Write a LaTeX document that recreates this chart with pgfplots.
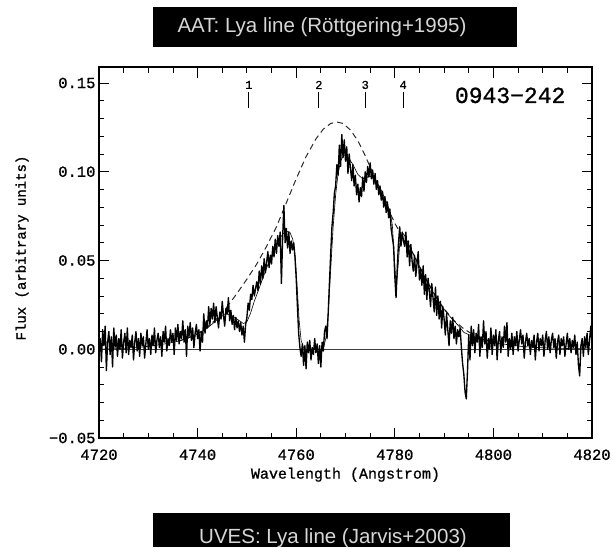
\documentclass[border=0pt]{standalone}
\usepackage{pgfplots}
\pgfplotsset{compat=1.18}
\usepackage{pgfplotstable}
\usepackage{fontspec}
\setmainfont{Liberation Sans}
\setmonofont{Liberation Mono}
\newfontfamily\plotfont[FakeBold=1]{Liberation Mono}
\definecolor{titlegray}{HTML}{D6D6D6}
\definecolor{dashgray}{HTML}{2A2A2A}

% Observed Lya spectrum of 0943-242 (wavelength in Angstrom, flux in arbitrary units)
\pgfplotstableread{
wl flux
4720.00 -0.004
4720.25 0.006
4720.50 -0.007
4720.75 0.011
4721.00 0.002
4721.25 0.013
4721.50 -0.012
4721.75 0.004
4722.00 0.010
4722.25 -0.003
4722.50 0.007
4722.75 -0.010
4723.00 0.012
4723.25 0.001
4723.50 0.008
4723.75 -0.004
4724.00 0.006
4724.25 0.000
4724.50 0.011
4724.75 -0.005
4725.00 0.004
4725.25 0.009
4725.50 -0.002
4725.75 0.012
4726.00 -0.003
4726.25 0.005
4726.50 0.001
4726.75 0.008
4727.00 -0.006
4727.25 0.004
4727.50 0.010
4727.75 -0.001
4728.00 0.006
4728.25 -0.004
4728.50 0.009
4728.75 0.002
4729.00 0.007
4729.25 -0.005
4729.50 0.003
4729.75 0.011
4730.00 0.000
4730.25 0.006
4730.50 -0.003
4730.75 0.008
4731.00 0.002
4731.25 0.012
4731.50 -0.002
4731.75 0.005
4732.00 0.009
4732.25 0.001
4732.50 0.007
4732.75 -0.004
4733.00 0.010
4733.25 0.004
4733.50 0.013
4733.75 -0.001
4734.00 0.006
4734.25 0.002
4734.50 0.011
4734.75 0.004
4735.00 0.009
4735.25 -0.003
4735.50 0.012
4735.75 0.005
4736.00 0.014
4736.25 0.003
4736.50 0.010
4736.75 0.006
4737.00 0.016
4737.25 0.004
4737.50 0.011
4737.75 -0.004
4738.00 0.013
4738.25 0.007
4738.50 0.015
4738.75 0.005
4739.00 0.012
4739.25 0.001
4739.50 0.009
4739.75 0.014
4740.00 0.006
4740.25 0.011
4740.50 -0.001
4740.75 0.010
4741.00 0.004
4741.25 0.020
4741.50 0.009
4741.75 0.016
4742.00 0.012
4742.25 0.024
4742.50 0.014
4742.75 0.023
4743.00 0.017
4743.25 0.026
4743.50 0.015
4743.75 0.024
4744.00 0.018
4744.25 0.012
4744.50 0.021
4744.75 0.017
4745.00 0.027
4745.25 0.019
4745.50 0.013
4745.75 0.023
4746.00 0.020
4746.25 0.029
4746.50 0.016
4746.75 0.022
4747.00 0.014
4747.25 0.019
4747.50 0.011
4747.75 0.018
4748.00 0.012
4748.25 0.016
4748.50 0.010
4748.75 0.015
4749.00 0.008
4749.25 0.013
4749.50 0.004
4749.75 0.014
4750.00 0.018
4750.25 0.026
4750.50 0.022
4750.75 0.031
4751.00 0.028
4751.25 0.036
4751.50 0.030
4751.75 0.034
4752.00 0.038
4752.25 0.033
4752.50 0.044
4752.75 0.037
4753.00 0.047
4753.25 0.040
4753.50 0.051
4753.75 0.043
4754.00 0.049
4754.25 0.055
4754.50 0.046
4754.75 0.053
4755.00 0.048
4755.25 0.058
4755.50 0.052
4755.75 0.062
4756.00 0.054
4756.25 0.064
4756.50 0.058
4756.75 0.066
4757.00 0.037
4757.25 0.063
4757.50 0.081
4757.75 0.060
4758.00 0.068
4758.25 0.057
4758.50 0.066
4758.75 0.054
4759.00 0.061
4759.25 0.056
4759.50 0.060
4759.75 0.052
4760.00 0.040
4760.25 0.024
4760.50 0.009
4760.75 0.001
4761.00 -0.004
4761.25 0.003
4761.50 -0.009
4761.75 0.002
4762.00 -0.011
4762.25 0.004
4762.50 -0.002
4762.75 0.005
4763.00 -0.006
4763.25 0.001
4763.50 -0.003
4763.75 0.006
4764.00 -0.002
4764.25 0.003
4764.50 -0.008
4764.75 0.002
4765.00 -0.010
4765.25 0.004
4765.50 -0.001
4765.75 0.010
4766.00 0.013
4766.25 0.006
4766.50 0.021
4766.75 0.038
4767.00 0.054
4767.25 0.069
4767.50 0.077
4767.75 0.088
4768.00 0.092
4768.25 0.104
4768.50 0.098
4768.75 0.115
4769.00 0.103
4769.25 0.121
4769.50 0.108
4769.75 0.118
4770.00 0.106
4770.25 0.114
4770.50 0.099
4770.75 0.110
4771.00 0.102
4771.25 0.095
4771.50 0.104
4771.75 0.092
4772.00 0.098
4772.25 0.087
4772.50 0.093
4772.75 0.083
4773.00 0.091
4773.25 0.086
4773.50 0.097
4773.75 0.089
4774.00 0.100
4774.25 0.094
4774.50 0.103
4774.75 0.097
4775.00 0.105
4775.25 0.096
4775.50 0.101
4775.75 0.093
4776.00 0.099
4776.25 0.090
4776.50 0.095
4776.75 0.087
4777.00 0.092
4777.25 0.084
4777.50 0.089
4777.75 0.080
4778.00 0.086
4778.25 0.077
4778.50 0.083
4778.75 0.074
4779.00 0.079
4779.25 0.068
4779.50 0.063
4779.75 0.058
4780.00 0.041
4780.25 0.029
4780.50 0.046
4780.75 0.060
4781.00 0.069
4781.25 0.058
4781.50 0.066
4781.75 0.061
4782.00 0.058
4782.25 0.066
4782.50 0.052
4782.75 0.061
4783.00 0.047
4783.25 0.059
4783.50 0.050
4783.75 0.044
4784.00 0.053
4784.25 0.041
4784.50 0.048
4784.75 0.055
4785.00 0.039
4785.25 0.045
4785.50 0.036
4785.75 0.047
4786.00 0.031
4786.25 0.042
4786.50 0.028
4786.75 0.040
4787.00 0.033
4787.25 0.024
4787.50 0.037
4787.75 0.029
4788.00 0.021
4788.25 0.035
4788.50 0.019
4788.75 0.030
4789.00 0.017
4789.25 0.027
4789.50 0.012
4789.75 0.024
4790.00 0.017
4790.25 0.008
4790.50 0.020
4790.75 0.011
4791.00 0.002
4791.25 0.016
4791.50 0.009
4791.75 0.018
4792.00 0.006
4792.25 0.013
4792.50 0.003
4792.75 0.011
4793.00 0.007
4793.25 0.012
4793.50 0.001
4793.75 -0.008
4794.00 -0.014
4794.25 -0.024
4794.50 -0.028
4794.75 -0.012
4795.00 0.008
4795.25 -0.006
4795.50 0.013
4795.75 0.002
4796.00 0.011
4796.25 -0.002
4796.50 0.009
4796.75 0.004
4797.00 0.014
4797.25 -0.004
4797.50 0.007
4797.75 0.001
4798.00 0.016
4798.25 0.003
4798.50 0.010
4798.75 -0.005
4799.00 0.006
4799.25 0.000
4799.50 0.012
4799.75 -0.003
4800.00 0.008
4800.25 0.002
4800.50 0.011
4800.75 -0.006
4801.00 0.005
4801.25 0.010
4801.50 -0.002
4801.75 0.007
4802.00 0.001
4802.25 0.013
4802.50 0.004
4802.75 0.015
4803.00 -0.004
4803.25 0.006
4803.50 0.000
4803.75 0.009
4804.00 -0.003
4804.25 0.007
4804.50 0.002
4804.75 0.010
4805.00 -0.001
4805.25 0.005
4805.50 0.011
4805.75 0.003
4806.00 0.008
4806.25 -0.005
4806.50 0.004
4806.75 0.009
4807.00 0.002
4807.25 0.006
4807.50 -0.003
4807.75 0.005
4808.00 0.001
4808.25 0.008
4808.50 -0.006
4808.75 0.004
4809.00 0.009
4809.25 -0.001
4809.50 0.006
4809.75 0.002
4810.00 0.008
4810.25 -0.004
4810.50 0.005
4810.75 0.010
4811.00 0.000
4811.25 0.007
4811.50 -0.002
4811.75 0.005
4812.00 0.009
4812.25 0.001
4812.50 0.006
4812.75 -0.005
4813.00 0.004
4813.25 0.008
4813.50 -0.003
4813.75 0.006
4814.00 0.002
4814.25 0.007
4814.50 -0.004
4814.75 0.003
4815.00 0.009
4815.25 0.000
4815.50 0.006
4815.75 -0.002
4816.00 0.005
4816.25 0.001
4816.50 0.008
4816.75 -0.003
4817.00 0.004
4817.25 -0.009
4817.50 -0.015
4817.75 0.002
4818.00 0.006
4818.25 -0.004
4818.50 0.007
4818.75 0.001
4819.00 0.009
4819.25 -0.003
4819.50 0.005
4819.75 0.013
4820.00 0.004
}\spectrum

% Model with absorbers
\pgfplotstableread{
wl flux
4720 0.0000
4724 0.0004
4728 0.0010
4731 0.0020
4734 0.0033
4736 0.0045
4738 0.0062
4740 0.0085
4742 0.0120
4743.5 0.0155
4744.5 0.0180
4745.5 0.0195
4746.5 0.0195
4747.5 0.0180
4748.5 0.0160
4749.3 0.0145
4750 0.0155
4750.7 0.0200
4751.5 0.0270
4752.5 0.0345
4753.5 0.0420
4754.5 0.0495
4755.5 0.0560
4756.5 0.0615
4757.3 0.0650
4758 0.0665
4758.7 0.0660
4759.3 0.0620
4759.8 0.0520
4760.2 0.0350
4760.6 0.0160
4761 0.0050
4761.5 0.0008
4762 0.0000
4765 0.0000
4765.6 0.0015
4766 0.0060
4766.5 0.0200
4767 0.0450
4767.5 0.0690
4768 0.0870
4768.5 0.0990
4769 0.1060
4769.7 0.1095
4770.5 0.1085
4771.5 0.1040
4772.5 0.0985
4773.5 0.0960
4774.5 0.0970
4775.3 0.0975
4776 0.0955
4777 0.0910
4778 0.0850
4779 0.0780
4779.5 0.0700
4779.9 0.0520
4780.3 0.0340
4780.7 0.0480
4781.1 0.0630
4781.6 0.0655
4782 0.0640
4783 0.0580
4784 0.0520
4785 0.0465
4786 0.0410
4787 0.0360
4788 0.0310
4789 0.0265
4790 0.0225
4791 0.0190
4792 0.0160
4793 0.0130
4794 0.0095
4795 0.0082
4796 0.0072
4798 0.0055
4800 0.0040
4803 0.0025
4806 0.0015
4810 0.0008
4815 0.0004
4820 0.0002
}\model

% Unabsorbed emission profile
\pgfplotstableread{
wl flux
4736 0.0045
4738 0.0062
4740 0.0088
4742 0.0125
4744 0.0175
4746 0.0240
4748 0.0315
4750 0.0395
4752 0.0480
4754 0.0580
4756 0.0690
4758 0.0825
4760 0.0960
4762 0.1085
4764 0.1185
4765.5 0.1240
4767 0.1272
4768.3 0.1280
4769.5 0.1272
4771 0.1235
4772.5 0.1175
4774 0.1090
4775.5 0.0995
4777 0.0895
4778.5 0.0800
4780 0.0710
4781.5 0.0635
4783 0.0575
4784 0.0525
4785 0.0470
4786 0.0415
4787 0.0363
4788 0.0313
4789 0.0268
4790 0.0228
4792 0.0162
4794 0.0115
4796 0.0080
4798 0.0057
}\unabsorbed

\begin{document}
\begin{tikzpicture}[x=1pt,y=1pt]
\path[use as bounding box] (0,0) rectangle (613,547);

% caption bars
\fill[black] (153,500) rectangle (517,540);
\node[anchor=base, text=titlegray, font=\fontsize{20.5}{24}\selectfont, inner sep=0pt]
  at (322,514) {AAT: Lya line (Röttgering+1995)};
\fill[black] (153,0) rectangle (510,34);
\node[anchor=base, text=titlegray, font=\fontsize{20.5}{24}\selectfont, inner sep=0pt]
  at (333,4) {UVES: Lya line (Jarvis+2003)};

\begin{axis}[
  at={(99pt,109pt)}, anchor=south west,
  scale only axis, width=493pt, height=371pt,
  xmin=4720, xmax=4820, ymin=-0.05, ymax=0.159,
  xtick={4720,4740,4760,4780,4800,4820},
  xticklabels={4720,4740,4760,4780,4800,4820},
  ytick={-0.05,0,0.05,0.10,0.15},
  yticklabels={−0.05,0.00,0.05,0.10,0.15},
  minor x tick num=3, minor y tick num=4,
  xtick pos=both, ytick pos=both,
  tick align=inside,
  major tick length=10.5pt, minor tick length=5.5pt,
  every tick/.style={black, line width=0.9pt},
  axis line style={line width=1.1pt},
  tick label style={font=\plotfont\fontsize{15.5}{18}\selectfont},
  xticklabel style={yshift=-8pt},
  xlabel={Wavelength (Angstrom)},
  ylabel={Flux (arbitrary units)},
  xlabel style={font=\plotfont\fontsize{15}{18}\selectfont, at={(axis description cs:0.5,-0.099)}, anchor=center},
  ylabel style={font=\plotfont\fontsize{14}{17}\selectfont, at={(axis description cs:-0.156,0.512)}, anchor=center},
  clip=false,
]
% zero level
\addplot[line width=0.6pt, black!75] coordinates {(4720,0) (4820,0)};
% unabsorbed profile
\addplot[line width=1pt, dashgray, dash pattern=on 6pt off 4pt] table {\unabsorbed};
% absorbed model
\addplot[line width=0.6pt, black] table {\model};
% data
\addplot[line width=1.35pt, black, line join=round] table {\spectrum};
% absorber positions
\addplot[only marks, mark=|, mark size=8pt, mark options={line width=0.9pt, black}]
  coordinates {(4750.4,0.1405) (4764.6,0.1405) (4774.0,0.1405) (4781.7,0.1405)};
\node[font=\plotfont\fontsize{12}{14}\selectfont] at (axis cs:4750.4,0.1489) {1};
\node[font=\plotfont\fontsize{12}{14}\selectfont] at (axis cs:4764.6,0.1489) {2};
\node[font=\plotfont\fontsize{12}{14}\selectfont] at (axis cs:4774.0,0.1489) {3};
\node[font=\plotfont\fontsize{12}{14}\selectfont] at (axis cs:4781.7,0.1489) {4};
\node[font=\plotfont\fontsize{23}{26}\selectfont] at (axis cs:4803.4,0.143) {0943−242};
\end{axis}
\end{tikzpicture}
\end{document}
